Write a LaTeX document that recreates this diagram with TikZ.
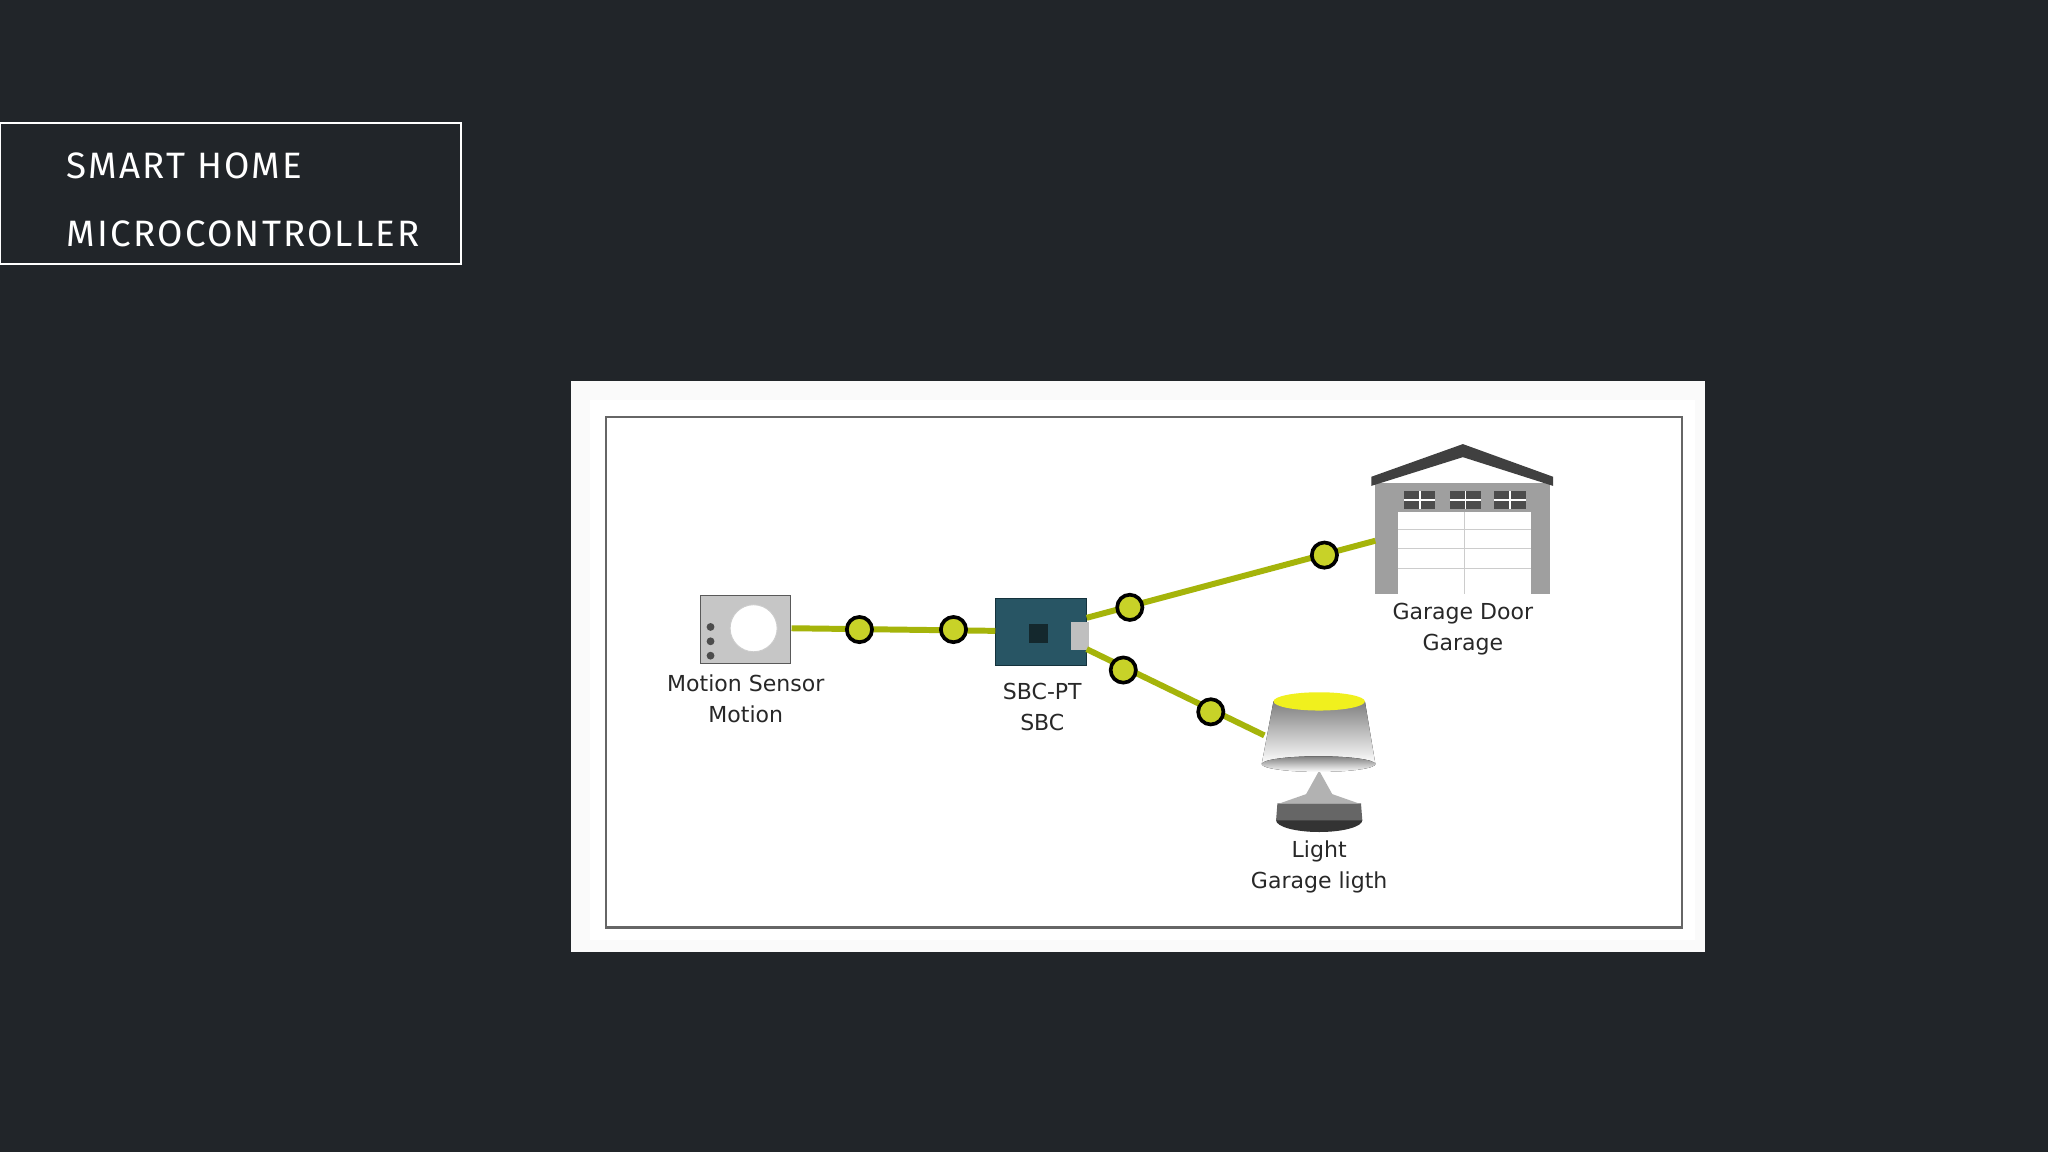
\documentclass[tikz,border=0pt]{standalone}
\usepackage{fontspec}
\setmainfont{DejaVu Sans}
\newfontfamily\titlefont[LetterSpace=6]{Fira Sans}
\definecolor{bg}{RGB}{33,37,41}
\definecolor{wirec}{RGB}{165,180,10}
\definecolor{jointc}{RGB}{200,210,40}
\definecolor{lblc}{RGB}{40,40,40}
\definecolor{sbcc}{RGB}{40,85,100}
\definecolor{sbcd}{RGB}{20,50,60}
\definecolor{chipc}{RGB}{20,40,45}
\definecolor{shade}{RGB}{215,215,0}
\definecolor{shadetop}{RGB}{240,240,30}
\begin{document}
\begin{tikzpicture}[x=0.02cm,y=-0.02cm,
  wire/.style={line width=2.6pt,draw=wirec},
  joint/.style={circle,draw=black,line width=1.6pt,fill=jointc,minimum size=11pt,inner sep=0pt},
  lbl/.style={align=center,font=\fontsize{9.6}{13.5}\selectfont,text=lblc}]
\fill[bg] (0,0) rectangle (1568,882);
\useasboundingbox (0,0) rectangle (1568,882);
% title
\draw[white,line width=1pt] (0,94) rectangle (353,202);
\node[anchor=west,text=white,align=left,font=\titlefont\fontsize{16}{30}\selectfont] (title) at (45,153) {SMART HOME\\MICROCONTROLLER};
% panel
\fill[white!96!gray] (437,292) rectangle (1305,729);
\fill[white] (452,306) rectangle (1298,720);
\draw[gray!80!black,line width=1pt] (464,319) rectangle (1288,710);
% motion sensor
\node[draw=gray!70!black,fill=gray!45,inner sep=0pt,minimum width=1.38cm,minimum height=1.04cm] (ms) at (571,482) {};
\fill[white,draw=gray!40] (577,481) circle (18);
\foreach \yy in {480,491,502} \fill[black!70] (544,\yy) circle (3);
\node[lbl] (msl) at (571,535) {Motion Sensor\\Motion};
% SBC
\node[fill=sbcc,draw=sbcd,minimum width=1.4cm,minimum height=1.02cm,inner sep=0pt] (sbc) at (797,484) {};
\fill[chipc] (788,478) rectangle (802,492);
\fill[gray!50] (820,476) rectangle (834,498);
\node[lbl] (sbcl) at (798,541) {SBC-PT\\SBC};
% garage
\coordinate (gd) at (1053,414);
\fill[gray!75] (1053,370) rectangle (1187,455);
\fill[black!75] (1050,365) -- (1120,340) -- (1189,365) -- (1189,372) -- (1120,350) -- (1050,372) -- cycle;
\fill[white] (1070,392) rectangle (1172,455);
\foreach \xx in {1075,1110,1144} {\fill[black!70] (\xx,376) rectangle ++(24,14);
  \draw[white,line width=0.8pt] (\xx+12,376) -- ++(0,14) (\xx,383) -- ++(24,0);}
\foreach \yy in {405,420,435} \draw[gray!40] (1070,\yy) -- (1172,\yy);
\draw[gray!40] (1121,392) -- (1121,455);
\node[lbl] (gl) at (1120,482) {Garage Door\\Garage};
% light
\coordinate (lt) at (968,563);
\fill[black!80] (1010,628) ellipse (33 and 9);
\fill[black!60] (978,615) -- (1042,615) -- (1043,628) -- (977,628) -- cycle;
\fill[gray!60] (1010,590) -- (1000,608) -- (980,615) -- (1040,615) -- (1020,608) -- cycle;
\fill[shade] (975,537) -- (1045,537) -- (1053,585) -- (966,585) -- cycle;
\fill[shade] (1009.5,585) ellipse (43.5 and 6);
\fill[shadetop] (1010,537) ellipse (35 and 7);
\node[lbl] (ll) at (1010,664) {Light\\Garage ligth};
% wires
\coordinate (s1) at (606,481); \coordinate (b1) at (762,483);
\coordinate (b2) at (832,473); \coordinate (b3) at (832,497);
\draw[wire] (s1) -- (b1);
\draw[wire] (b2) -- (gd);
\draw[wire] (b3) -- (lt);
\node[joint] (j1) at (658,482) {};
\node[joint] (j2) at (730,482) {};
\node[joint] (j3) at (865,465) {};
\node[joint] (j4) at (1014,425) {};
\node[joint] (j5) at (860,513) {};
\node[joint] (j6) at (927,545) {};
\end{tikzpicture}
\end{document}
